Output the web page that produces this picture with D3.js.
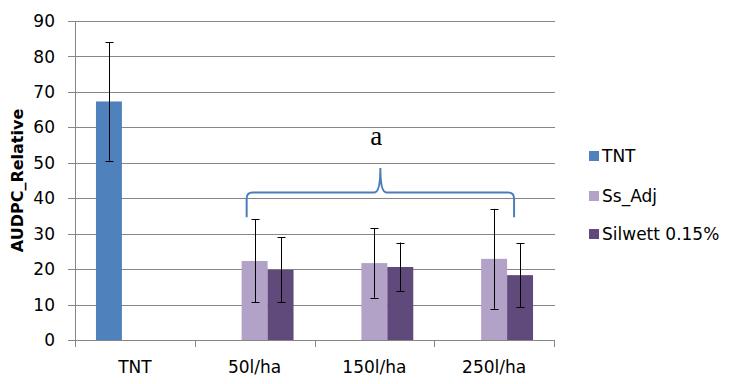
<!DOCTYPE html>
<html>
<head>
<meta charset="utf-8">
<script src="https://cdn.jsdelivr.net/npm/d3@7"></script>
<style>
    body { margin: 0; background: #fff; }
</style>
</head>
<body>
<div id="chart"></div>
<script>
//categories and series
const categories = ['TNT', '50l/ha', '150l/ha', '250l/ha'];
const series = ['TNT', 'Ss_Adj', 'Silwett 0.15%'];
const colors = ['#4f81bd', '#b3a2c7', '#604a7b'];

//values per series (null = no bar)
const tntValues = [67.3, null, null, null];
const ssAdjValues = [null, 22.3, 21.7, 22.9];
const silwettValues = [null, 19.8, 20.6, 18.3];

//error bar sizes (+/-)
const tntErr = [16.7, null, null, null];
const ssAdjErr = [null, 11.7, 9.8, 14.1];
const silwettErr = [null, 9.2, 6.9, 9.0];

//y axis ticks
const yTicks = [0, 10, 20, 30, 40, 50, 60, 70, 80, 90];

//brace annotation (data units)
const braceLabel = 'a';
const braceFrom = '50l/ha';
const braceTo = '250l/ha';
const braceEnd = 34.6;
const braceLevel = 41.6;
const bracePeak = 48.5;
const labelValue = 55;

const width = 734;
const height = 384;
const margin = { top: 21, right: 180, bottom: 44, left: 75 };
const font = "'DejaVu Sans', sans-serif";

const svg = d3.select("#chart")
    .append("svg")
    .attr("width", width)
    .attr("height", height)
    .style("font-family", font);

//scales
const x = d3.scaleBand()
    .domain(categories)
    .range([margin.left, width - margin.right])
    .paddingInner(0)
    .paddingOuter(0);

const xSub = d3.scaleBand()
    .domain(series)
    .range([0, x.bandwidth()])
    .paddingInner(0)
    .paddingOuter(0.808);

const y = d3.scaleLinear()
    .domain([0, 90])
    .range([height - margin.bottom, margin.top]);

//gridlines
svg.append("g")
    .selectAll("line")
    .data(yTicks)
    .enter()
    .append("line")
    .attr("x1", margin.left - 7)
    .attr("x2", width - margin.right + 1)
    .attr("y1", d => Math.round(y(d)) + 0.5)
    .attr("y2", d => Math.round(y(d)) + 0.5)
    .attr("stroke", "#868686")
    .attr("stroke-width", 1);

//y tick labels
svg.append("g")
    .selectAll("text")
    .data(yTicks)
    .enter()
    .append("text")
    .attr("x", margin.left - 20)
    .attr("y", d => y(d))
    .attr("dy", "0.36em")
    .attr("text-anchor", "end")
    .attr("font-size", 17)
    .attr("fill", "#000")
    .text(d => d);

//y axis line
svg.append("line")
    .attr("x1", margin.left + 0.5)
    .attr("x2", margin.left + 0.5)
    .attr("y1", margin.top)
    .attr("y2", height - margin.bottom + 7)
    .attr("stroke", "#868686");

//x ticks
const xEdges = categories.map(c => x(c)).concat([x(categories[categories.length - 1]) + x.bandwidth()]);
svg.append("g")
    .selectAll("line")
    .data(xEdges)
    .enter()
    .append("line")
    .attr("x1", d => Math.round(d) + 0.5)
    .attr("x2", d => Math.round(d) + 0.5)
    .attr("y1", y(0))
    .attr("y2", y(0) + 7)
    .attr("stroke", "#868686");

//x labels
svg.append("g")
    .selectAll("text")
    .data(categories)
    .enter()
    .append("text")
    .attr("x", d => x(d) + x.bandwidth() / 2)
    .attr("y", y(0) + 33)
    .attr("text-anchor", "middle")
    .attr("font-size", 17)
    .text(d => d);

//y axis title
svg.append("text")
    .attr("transform", "translate(23," + ((margin.top + y(0)) / 2) + ") rotate(-90)")
    .attr("text-anchor", "middle")
    .attr("font-size", 16)
    .attr("font-weight", "bold")
    .text("AUDPC_Relative");

//bars + error bars
const allValues = [tntValues, ssAdjValues, silwettValues];
const allErr = [tntErr, ssAdjErr, silwettErr];

series.forEach(function (s, i) {

    let rows = [];
    categories.forEach(function (c, j) {
        if (allValues[i][j] != null) {
            rows.push({ cat: c, value: allValues[i][j], err: allErr[i][j] });
        }
    })

    let g = svg.append("g");

    g.selectAll("rect")
        .data(rows)
        .enter()
        .append("rect")
        .attr("x", d => x(d.cat) + xSub(s))
        .attr("y", d => y(d.value))
        .attr("width", xSub.bandwidth())
        .attr("height", d => y(0) - y(d.value))
        .attr("fill", colors[i]);

    //error bars
    let eb = g.selectAll(".err")
        .data(rows)
        .enter()
        .append("g");

    let cx = d => Math.round(x(d.cat) + xSub(s) + xSub.bandwidth() / 2) + 0.5;

    eb.append("line")
        .attr("x1", cx).attr("x2", cx)
        .attr("y1", d => y(d.value + d.err))
        .attr("y2", d => y(d.value - d.err))
        .attr("stroke", "#000");

    [1, -1].forEach(function (sign) {
        eb.append("line")
            .attr("x1", d => cx(d) - 4)
            .attr("x2", d => cx(d) + 4)
            .attr("y1", d => Math.round(y(d.value + sign * d.err)) + 0.5)
            .attr("y2", d => Math.round(y(d.value + sign * d.err)) + 0.5)
            .attr("stroke", "#000");
    })
})

//brace
const bx0 = x(braceFrom) + xSub(series[1]) + 5;
const bx1 = x(braceTo) + xSub(series[2]) + xSub.bandwidth() / 2 - 6;
const bmid = (bx0 + bx1) / 2;
const yEnd = y(braceEnd), yLev = y(braceLevel), yPk = y(bracePeak);
const r = 6;

const brace = d3.path();
brace.moveTo(bx0, yEnd);
brace.lineTo(bx0, yLev + r);
brace.quadraticCurveTo(bx0, yLev, bx0 + r, yLev);
brace.lineTo(bmid - r, yLev);
brace.quadraticCurveTo(bmid, yLev, bmid, yPk);
brace.quadraticCurveTo(bmid, yLev, bmid + r, yLev);
brace.lineTo(bx1 - r, yLev);
brace.quadraticCurveTo(bx1, yLev, bx1, yLev + r);
brace.lineTo(bx1, yEnd);

svg.append("path")
    .attr("d", brace.toString())
    .attr("fill", "none")
    .attr("stroke", "#4a7ebb")
    .attr("stroke-width", 2);

svg.append("text")
    .attr("x", bmid - 4)
    .attr("y", y(labelValue))
    .attr("text-anchor", "middle")
    .style("font-family", "'Liberation Serif', serif")
    .attr("font-size", 27)
    .text(braceLabel);

//legend
const legend = svg.append("g")
    .selectAll("g")
    .data(series)
    .enter()
    .append("g")
    .attr("transform", (d, i) => "translate(589," + [156, 196, 234][i] + ")");

legend.append("rect")
    .attr("x", 0)
    .attr("y", -5)
    .attr("width", 10)
    .attr("height", 10)
    .attr("fill", (d, i) => colors[i]);

legend.append("text")
    .attr("x", 13)
    .attr("y", 0)
    .attr("dy", "0.36em")
    .attr("font-size", 17)
    .text(d => d);
</script>
</body>
</html>
